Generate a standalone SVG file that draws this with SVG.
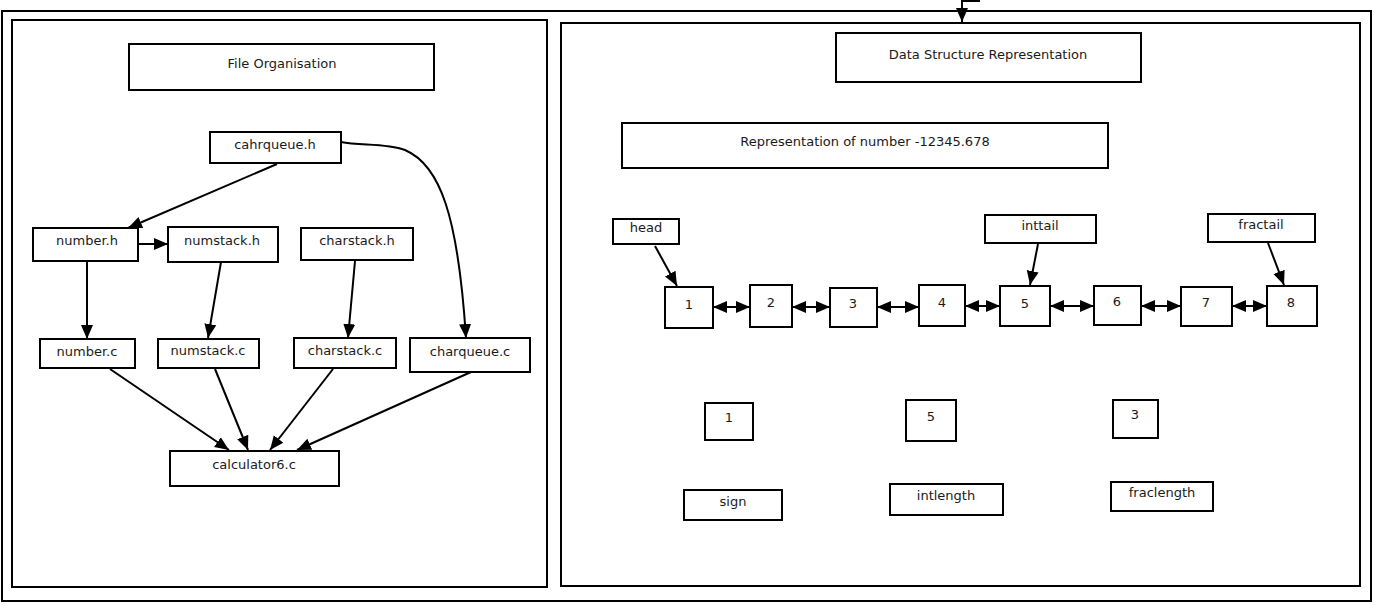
<svg xmlns="http://www.w3.org/2000/svg" width="1374" height="605" viewBox="0 0 1374 605">
<style>
.box{fill:#fff;stroke:#000;stroke-width:2}
.frame{fill:none;stroke:#000;stroke-width:2}
.lbl{font-family:"DejaVu Sans",sans-serif;font-size:13px;fill:#1a1a1a;text-anchor:middle}
.edge{fill:none;stroke:#000;stroke-width:2;marker-end:url(#ah)}
.dbl{fill:none;stroke:#000;stroke-width:2;marker-end:url(#ah);marker-start:url(#ah)}
</style>
<defs>
<marker id="ah" markerUnits="userSpaceOnUse" markerWidth="15" markerHeight="15" viewBox="0 0 15 15" refX="14" refY="7.5" orient="auto-start-reverse">
<path d="M0,1.5 L14,7.5 L0,13.5 Z" fill="#000"/>
</marker>
</defs>
<rect x="2" y="11" width="1369" height="590" class="frame"/>
<rect x="12" y="20" width="535" height="567" class="frame"/>
<rect x="561" y="23" width="799" height="563" class="frame"/>
<g id="connectors">
<path d="M980,1 L962,1 L962,22" class="edge"/>
<path d="M277,164 L128,228" class="edge"/>
<path d="M138,244 L168,244" class="edge"/>
<path d="M87,261 L87,339" class="edge"/>
<path d="M221,262 L208,338" class="edge"/>
<path d="M355,261 L348,338" class="edge"/>
<path d="M341,142 C360,146 385,143 405,150 C440,165 458,215 466,338" class="edge"/>
<path d="M110,369 L229,450" class="edge"/>
<path d="M215,369 L248,450" class="edge"/>
<path d="M333,369 L270,450" class="edge"/>
<path d="M471,372 L297,450" class="edge"/>
<path d="M655,246 L677,286" class="edge"/>
<path d="M1038,244 L1030,285" class="edge"/>
<path d="M1268,243 L1284,285" class="edge"/>
<path d="M713,307 L750,307" class="dbl"/>
<path d="M792,307 L830,307" class="dbl"/>
<path d="M877,307 L919,307" class="dbl"/>
<path d="M965,306 L1000,306" class="dbl"/>
<path d="M1050,306 L1094,306" class="dbl"/>
<path d="M1141,306 L1181,306" class="dbl"/>
<path d="M1232,306 L1267,306" class="dbl"/>
</g>
<g id="n-fileorg"><rect x="129" y="44" width="305" height="46" class="box"/><text x="282" y="68" class="lbl">File Organisation</text></g>
<g id="n-cahrqueue-h"><rect x="210" y="132" width="131" height="31" class="box"/><text x="275" y="149" class="lbl">cahrqueue.h</text></g>
<g id="n-number-h"><rect x="33" y="228" width="105" height="33" class="box"/><text x="87" y="245" class="lbl">number.h</text></g>
<g id="n-numstack-h"><rect x="168" y="227" width="110" height="35" class="box"/><text x="222" y="245" class="lbl">numstack.h</text></g>
<g id="n-charstack-h"><rect x="301" y="228" width="112" height="32" class="box"/><text x="357" y="245" class="lbl">charstack.h</text></g>
<g id="n-number-c"><rect x="40" y="339" width="95" height="29" class="box"/><text x="87" y="356" class="lbl">number.c</text></g>
<g id="n-numstack-c"><rect x="158" y="339" width="101" height="29" class="box"/><text x="208" y="355" class="lbl">numstack.c</text></g>
<g id="n-charstack-c"><rect x="294" y="338" width="102" height="30" class="box"/><text x="345" y="355" class="lbl">charstack.c</text></g>
<g id="n-charqueue-c"><rect x="410" y="338" width="120" height="34" class="box"/><text x="470" y="356" class="lbl">charqueue.c</text></g>
<g id="n-calculator6-c"><rect x="170" y="451" width="169" height="35" class="box"/><text x="254" y="469" class="lbl">calculator6.c</text></g>
<g id="n-dsr"><rect x="836" y="33" width="305" height="49" class="box"/><text x="988" y="59" class="lbl">Data Structure Representation</text></g>
<g id="n-repr"><rect x="622" y="123" width="486" height="45" class="box"/><text x="865" y="146" class="lbl">Representation of number -12345.678</text></g>
<g id="n-head"><rect x="613" y="219" width="66" height="25" class="box"/><text x="646" y="232" class="lbl">head</text></g>
<g id="n-inttail"><rect x="985" y="215" width="111" height="28" class="box"/><text x="1040" y="230" class="lbl">inttail</text></g>
<g id="n-fractail"><rect x="1208" y="214" width="107" height="28" class="box"/><text x="1261" y="229" class="lbl">fractail</text></g>
<g id="n-d1"><rect x="665" y="287" width="48" height="41" class="box"/><text x="689" y="309" class="lbl">1</text></g>
<g id="n-d2"><rect x="750" y="285" width="42" height="42" class="box"/><text x="771" y="307" class="lbl">2</text></g>
<g id="n-d3"><rect x="830" y="288" width="47" height="39" class="box"/><text x="853" y="308" class="lbl">3</text></g>
<g id="n-d4"><rect x="919" y="285" width="46" height="41" class="box"/><text x="942" y="307" class="lbl">4</text></g>
<g id="n-d5"><rect x="1000" y="286" width="50" height="40" class="box"/><text x="1025" y="308" class="lbl">5</text></g>
<g id="n-d6"><rect x="1094" y="286" width="47" height="39" class="box"/><text x="1117" y="306" class="lbl">6</text></g>
<g id="n-d7"><rect x="1181" y="287" width="51" height="39" class="box"/><text x="1206" y="307" class="lbl">7</text></g>
<g id="n-d8"><rect x="1267" y="286" width="50" height="40" class="box"/><text x="1291" y="307" class="lbl">8</text></g>
<g id="n-sign-val"><rect x="705" y="403" width="48" height="37" class="box"/><text x="729" y="422" class="lbl">1</text></g>
<g id="n-intlen-val"><rect x="906" y="400" width="50" height="41" class="box"/><text x="931" y="421" class="lbl">5</text></g>
<g id="n-fraclen-val"><rect x="1113" y="400" width="45" height="38" class="box"/><text x="1135" y="419" class="lbl">3</text></g>
<g id="n-sign"><rect x="684" y="490" width="98" height="30" class="box"/><text x="733" y="506" class="lbl">sign</text></g>
<g id="n-intlength"><rect x="890" y="484" width="113" height="31" class="box"/><text x="946" y="500" class="lbl">intlength</text></g>
<g id="n-fraclength"><rect x="1111" y="482" width="102" height="29" class="box"/><text x="1162" y="497" class="lbl">fraclength</text></g>
</svg>
